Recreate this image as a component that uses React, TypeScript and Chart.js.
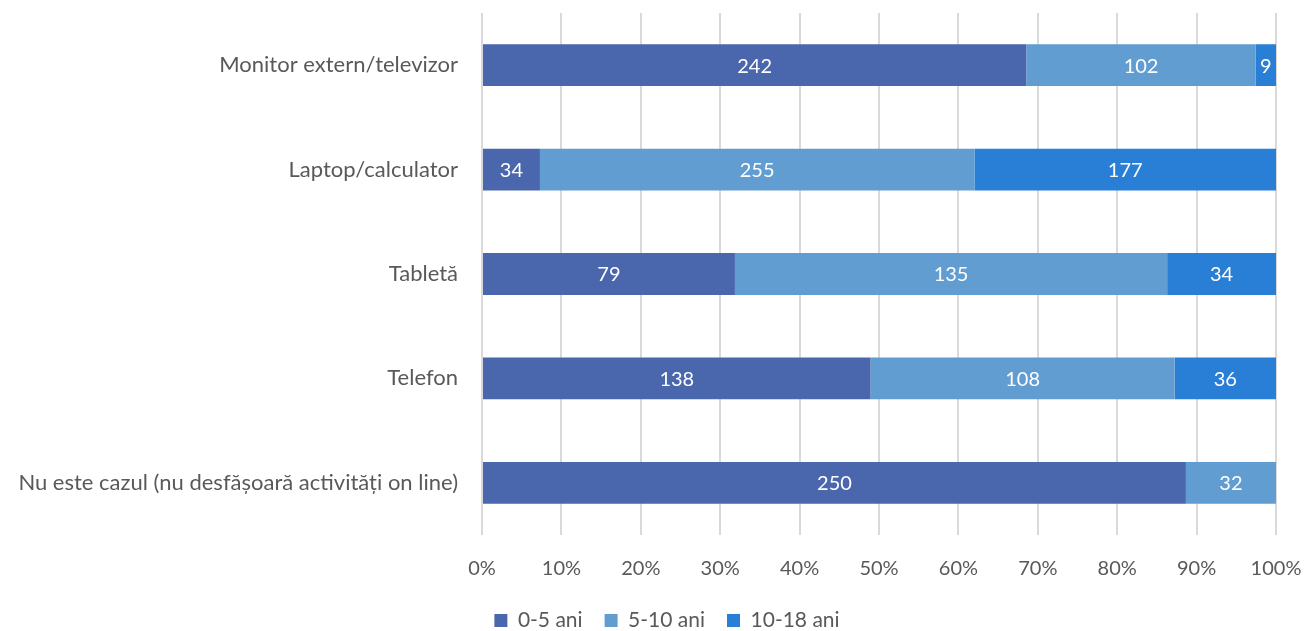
import React, { useEffect, useRef } from "react";
import { Chart, registerables } from "chart.js";

Chart.register(...registerables);

const categories = [
  "Monitor extern/televizor",
  "Laptop/calculator",
  "Tabletă",
  "Telefon",
  "Nu este cazul (nu desfășoară activități on line)",
];
const seriesNames = ["0-5 ani", "5-10 ani", "10-18 ani"];
const age0to5 = [242, 34, 79, 138, 250];
const age5to10 = [102, 255, 135, 108, 32];
const age10to18 = [9, 177, 34, 36, 0];
const seriesColors = ["#4A66AC", "#629DD1", "#297FD5"];
const xTickLabels = ["0%", "10%", "20%", "30%", "40%", "50%", "60%", "70%", "80%", "90%", "100%"];

const FONT = "Lato, 'Open Sans', sans-serif";

export default function App() {
  const ref = useRef<HTMLCanvasElement>(null);
  useEffect(() => {
    document.body.style.margin = "0";
    const counts = [age0to5, age5to10, age10to18];
    const totals = categories.map((_, i) => counts.reduce((s, a) => s + a[i], 0));
    const pct = counts.map((arr) => arr.map((v, i) => (v / totals[i]) * 100));

    const labelPlugin = {
      id: "barLabels",
      afterDatasetsDraw(chart: any) {
        const ctx = chart.ctx;
        ctx.save();
        ctx.font = `20px ${FONT}`;
        ctx.fillStyle = "#FFFFFF";
        ctx.textAlign = "center";
        ctx.textBaseline = "middle";
        chart.data.datasets.forEach((ds: any, di: number) => {
          const meta = chart.getDatasetMeta(di);
          meta.data.forEach((el: any, i: number) => {
            const v = counts[di][i];
            if (!v) return;
            const x = (el.x + el.base) / 2;
            ctx.fillText(String(v), x, el.y + 1);
          });
        });
        ctx.restore();
      },
    };

    const legendShift = {
      id: "legendShift",
      afterLayout(chart: any) {
        const l = chart.legend;
        if (l) {
          l.left += 29;
          l.right += 29;
        }
      },
    };

    const zeroPad = (axis: any) => {
      axis.paddingTop = 0;
      axis.paddingBottom = 0;
      axis.paddingLeft = 0;
      axis.paddingRight = 0;
    };

    const chart = new Chart(ref.current!, {
      type: "bar",
      data: {
        labels: categories,
        datasets: seriesNames.map((name, i) => ({
          label: name,
          data: pct[i],
          backgroundColor: seriesColors[i],
          borderWidth: 0,
          barPercentage: 0.4,
          categoryPercentage: 1,
        })),
      },
      options: {
        indexAxis: "y",
        animation: false,
        responsive: false,
        maintainAspectRatio: false,
        layout: { padding: { top: 13, right: 31, bottom: -10, left: 0 } },
        scales: {
          x: {
            stacked: true,
            min: 0,
            max: 100,
            grid: { color: "#D9D9D9", lineWidth: 2, drawTicks: false },
            border: { display: false },
            ticks: {
              stepSize: 10,
              padding: 22,
              color: "#595959",
              font: { family: FONT, size: 20 },
              callback: (_v: any, idx: number) => xTickLabels[idx],
            },
            afterFit: (axis: any) => {
              axis.height -= 15;
              zeroPad(axis);
            },
          },
          y: {
            stacked: true,
            grid: { display: false, drawTicks: false },
            border: { display: false },
            ticks: {
              padding: 24,
              color: "#595959",
              font: { family: FONT, size: 22 },
            },
            afterFit: (axis: any) => {
              axis.width = 482;
              zeroPad(axis);
            },
          },
        },
        plugins: {
          legend: {
            position: "bottom",
            labels: {
              color: "#595959",
              font: { family: FONT, size: 21 },
              boxWidth: 13,
              boxHeight: 13,
              padding: 22,
            },
          },
          tooltip: { enabled: false },
        },
      },
      plugins: [labelPlugin, legendShift],
    });
    return () => chart.destroy();
  }, []);
  return (
    <div style={{ width: 1307, height: 631 }}>
      <canvas ref={ref} width={1307} height={631} style={{ display: "block" }} />
    </div>
  );
}
